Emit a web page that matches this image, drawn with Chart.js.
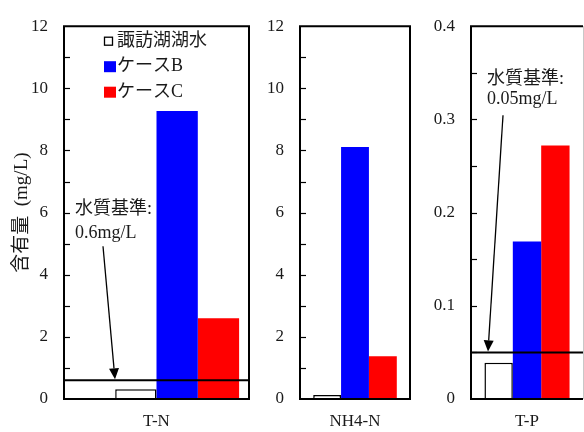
<!DOCTYPE html>
<html>
<head>
<meta charset="utf-8">
<script src="https://cdn.jsdelivr.net/npm/chart.js@4"></script>
<style>
  body { margin: 0; background: #fff; }
  #wrap { position: relative; width: 584px; height: 432px; overflow: hidden; }
  canvas { position: absolute; top: 0; }
</style>
</head>
<body>
<div id="wrap">
  <canvas id="tn" width="260" height="432" style="left:0"></canvas>
  <canvas id="nh4" width="170" height="432" style="left:250px"></canvas>
  <canvas id="tp" width="164" height="432" style="left:420px"></canvas>
</div>
<script>
// data (mg/L)
const categories = ['T-N', 'NH4-N', 'T-P'];
const seriesNames = ['諏訪湖湖水', 'ケースB', 'ケースC'];
const seriesColors = ['#ffffff', '#0000ff', '#ff0000'];
const tnValues = [0.31, 9.27, 2.6];
const nh4Values = [0.13, 8.11, 1.38];
const tpValues = [0.039, 0.169, 0.272];
const nTickLabels = ['0', '2', '4', '6', '8', '10', '12'];
const pTickLabels = ['0', '0.1', '0.2', '0.3', '0.4'];
const tnStandard = 0.6;
const tpStandard = 0.05;
const tnStandardText = ['水質基準:', '0.6mg/L'];
const tpStandardText = ['水質基準:', '0.05mg/L'];

const FONT = "'Liberation Serif', 'Times New Roman', 'Noto Sans CJK JP', serif";
const INK = '#1a1a1a';

function drawArrow(ctx, x0, y0, x1, y1) {
    const ang = Math.atan2(y1 - y0, x1 - x0);
    const len = 11, hw = 5;
    const bx = x1 - len * Math.cos(ang), by = y1 - len * Math.sin(ang);
    ctx.beginPath();
    ctx.moveTo(x0, y0);
    ctx.lineTo(bx, by);
    ctx.stroke();
    ctx.beginPath();
    ctx.moveTo(x1, y1);
    ctx.lineTo(bx + hw * Math.sin(ang), by - hw * Math.cos(ang));
    ctx.lineTo(bx - hw * Math.sin(ang), by + hw * Math.cos(ang));
    ctx.closePath();
    ctx.fill();
}

// frame, inward ticks, standard line, arrow note and legend
const panelDecor = {
    id: 'panelDecor',
    afterDatasetsDraw(chart, args, o) {
        const { ctx, chartArea: a, scales: { y } } = chart;
        ctx.save();

        ctx.strokeStyle = '#000';
        ctx.lineWidth = 1.2;
        const half = o.step / 2;
        for (let i = 1; i * half < y.max - 1e-9; i++) {
            const py = Math.round(y.getPixelForValue(i * half)) + 0.5;
            ctx.beginPath();
            ctx.moveTo(a.left, py);
            ctx.lineTo(a.left + 6, py);
            ctx.stroke();
        }

        ctx.lineWidth = 2;
        ctx.beginPath();
        if (o.openRight) {
            ctx.moveTo(a.right, a.top);
            ctx.lineTo(a.left, a.top);
            ctx.lineTo(a.left, a.bottom);
            ctx.lineTo(a.right, a.bottom);
        } else {
            ctx.rect(a.left, a.top, a.right - a.left, a.bottom - a.top);
        }
        ctx.stroke();
        if (o.openRight) {
            ctx.strokeStyle = '#c8c8c8';
            ctx.lineWidth = 1;
            ctx.beginPath();
            ctx.moveTo(a.right + 0.5, a.top);
            ctx.lineTo(a.right + 0.5, a.bottom);
            ctx.stroke();
            ctx.strokeStyle = '#000';
        }

        if (o.standard != null) {
            const sy = y.getPixelForValue(o.standard);
            ctx.lineWidth = 2;
            ctx.beginPath();
            ctx.moveTo(a.left, sy);
            ctx.lineTo(a.right, sy);
            ctx.stroke();

            const n = o.note;
            ctx.fillStyle = INK;
            ctx.font = '18px ' + FONT;
            ctx.textAlign = 'left';
            ctx.textBaseline = 'middle';
            n.text.forEach((t, i) => ctx.fillText(t, a.left + n.x, a.top + n.lines[i]));
            ctx.fillStyle = '#000';
            ctx.lineWidth = 1.3;
            drawArrow(ctx, a.left + n.from[0], a.top + n.from[1], a.left + n.tipX, sy - 1);
        }

        if (o.legend) {
            const ds = chart.data.datasets.filter(d => d.label);
            ctx.font = '18px ' + FONT;
            ctx.textAlign = 'left';
            ctx.textBaseline = 'middle';
            ds.forEach((d, i) => {
                const cy = a.top + 15 + i * 25.5;
                const bx = a.left + 40;
                if (d.borderWidth) {
                    ctx.fillStyle = '#fff';
                    ctx.fillRect(bx + 0.5, cy - 4, 8, 8);
                    ctx.lineWidth = 1.3;
                    ctx.strokeStyle = '#000';
                    ctx.strokeRect(bx + 0.5, cy - 4, 8, 8);
                } else {
                    ctx.fillStyle = d.backgroundColor;
                    ctx.fillRect(bx, cy - 5.5, 12, 11);
                }
                ctx.fillStyle = INK;
                ctx.fillText(d.label, a.left + 53, cy);
            });
        }
        ctx.restore();
    }
};

function makePanel(id, o) {
    const datasets = o.values.map((v, i) => ({
        label: seriesNames[i],
        data: [v],
        backgroundColor: seriesColors[i],
        borderColor: '#000',
        borderWidth: i === 0 ? 1.5 : 0
    }));
    // the first panel leaves an empty slot before the lake-water bar
    if (o.leadGap) datasets.unshift({ label: '', data: [null] });

    return new Chart(document.getElementById(id), {
        type: 'bar',
        data: { labels: [o.category], datasets: datasets },
        options: {
            responsive: false,
            animation: false,
            layout: { padding: { top: o.top, right: o.right, left: 0, bottom: 0 } },
            datasets: { bar: { categoryPercentage: o.catPct, barPercentage: 1 } },
            plugins: {
                legend: { display: false },
                tooltip: { enabled: false },
                panelDecor: {
                    step: o.step,
                    standard: o.standard,
                    note: o.note,
                    legend: o.legend,
                    openRight: o.openRight
                }
            },
            scales: {
                x: {
                    afterFit: s => { s.height = 33; },
                    grid: { display: false, drawTicks: false },
                    border: { display: false },
                    ticks: { padding: 12, color: INK, font: { family: FONT, size: 17 } }
                },
                y: {
                    min: 0,
                    max: Number(o.tickLabels[o.tickLabels.length - 1]),
                    afterBuildTicks: s => { s.ticks = o.tickLabels.map(t => ({ value: Number(t) })); },
                    afterFit: s => { s.width = o.axisW; },
                    grid: { display: false, drawTicks: false },
                    border: { display: false },
                    ticks: {
                        padding: 16,
                        color: INK,
                        font: { family: FONT, size: 17 },
                        callback: (v, i) => o.tickLabels[i]
                    },
                    title: {
                        display: !!o.yTitle,
                        text: o.yTitle || '',
                        color: INK,
                        font: { family: FONT, size: 19 },
                        padding: { top: 11, bottom: 0 }
                    }
                }
            }
        },
        plugins: [panelDecor]
    });
}

makePanel('tn', {
    category: categories[0], values: tnValues, tickLabels: nTickLabels, step: 2,
    top: 20, right: 11, axisW: 64, catPct: 0.893, leadGap: true,
    yTitle: '含有量  (mg/L)', legend: true, standard: tnStandard,
    note: { text: tnStandardText, x: 11, lines: [183, 207], from: [39, 220], tipX: 51 }
});

makePanel('nh4', {
    category: categories[1], values: nh4Values, tickLabels: nTickLabels, step: 2,
    top: 16, right: 10, axisW: 50, catPct: 0.76
});

makePanel('tp', {
    category: categories[2], values: tpValues, tickLabels: pTickLabels, step: 0.1,
    top: 17, right: 1, axisW: 51, catPct: 0.76, openRight: true, standard: tpStandard,
    note: { text: tpStandardText, x: 16, lines: [53, 73], from: [32, 89], tipX: 17 }
});
</script>
</body>
</html>
